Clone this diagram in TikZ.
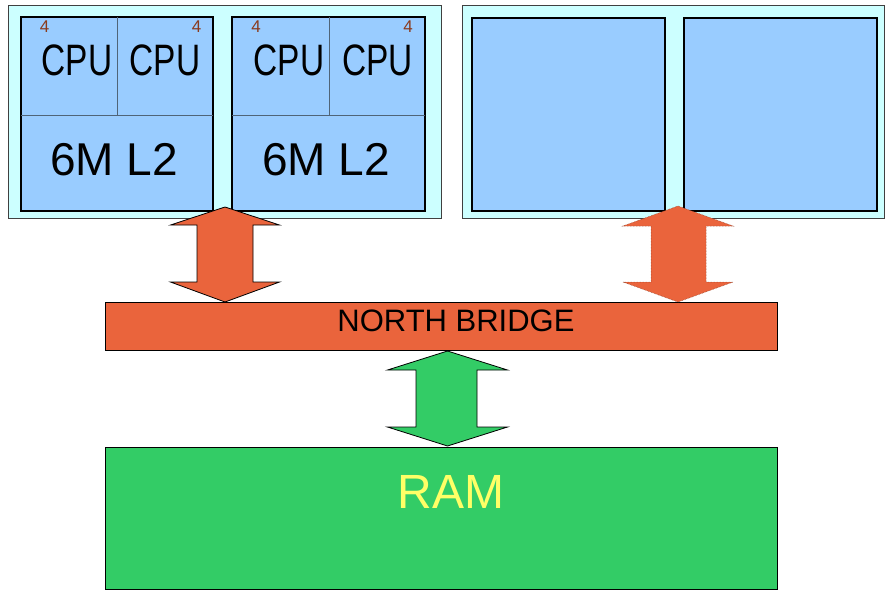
\documentclass[tikz,border=0pt]{standalone}
\usepackage{fontspec}
\setmainfont{Liberation Sans}
\definecolor{cyanbg}{HTML}{CCFFFF}
\definecolor{cpublue}{HTML}{99CCFF}
\definecolor{nbred}{HTML}{EA643C}
\definecolor{ramgreen}{HTML}{33CC66}
\definecolor{ramtext}{HTML}{FFFF66}
\definecolor{numbrown}{HTML}{8A3A1C}
\definecolor{divgray}{HTML}{4F6478}
\begin{document}
\begin{tikzpicture}[x=1pt,y=-1pt,
  outerbox/.style={fill=cyanbg, draw=black!75, line width=0.8pt},
  innerbox/.style={fill=cpublue, draw=black, line width=1.4pt},
  divider/.style={draw=divgray, line width=0.9pt},
  cpulabel/.style={anchor=base, inner sep=0pt, font=\fontsize{44}{44}\selectfont},
  cachelabel/.style={anchor=base, inner sep=0pt, font=\fontsize{46}{46}\selectfont},
  numlabel/.style={anchor=base, inner sep=0pt, text=numbrown, font=\fontsize{17}{17}\selectfont},
  bridgebox/.style={fill=nbred, draw=black, line width=1pt},
  rambox/.style={fill=ramgreen, draw=black, line width=1pt},
  blockarrowA/.style={fill=nbred, draw=black, line width=0.8pt, line join=miter},
  blockarrowB/.style={fill=nbred, draw=nbred!60!black, line width=0.5pt, densely dotted},
  blockarrowC/.style={fill=ramgreen, draw=black, line width=0.8pt, line join=miter}
]
\useasboundingbox (0,0) rectangle (885,590);
\fill[white] (0,0) rectangle (885,590);

% outer packages
\draw[outerbox] (8,5) rectangle (441,218);
\draw[outerbox] (462,5) rectangle (884.5,218);

% left package, die 1
\draw[innerbox] (21,17) rectangle (213,211);
\draw[divider] (21,115) -- (213,115);
\draw[divider] (117,17) -- (117,115);
% left package, die 2
\draw[innerbox] (232,17) rectangle (425,211);
\draw[divider] (232,115) -- (425,115);
\draw[divider] (329,17) -- (329,115);

% right package dies
\draw[innerbox] (472,18) rectangle (665,211);
\draw[innerbox] (684,18) rectangle (877,211);

% labels
\node[cpulabel] (cpu1) at (77,75) {\scalebox{0.76}[1]{CPU}};
\node[cpulabel] (cpu2) at (165,75) {\scalebox{0.76}[1]{CPU}};
\node[cpulabel] (cpu3) at (289,75) {\scalebox{0.76}[1]{CPU}};
\node[cpulabel] (cpu4) at (377.5,75) {\scalebox{0.76}[1]{CPU}};
\node[numlabel] (n1) at (44.5,32) {4};
\node[numlabel] (n2) at (196.5,32) {4};
\node[numlabel] (n3) at (256,32) {4};
\node[numlabel] (n4) at (408,32) {4};
\node[cachelabel] (l2a) at (114,175) {6M L2};
\node[cachelabel] (l2b) at (326,175) {6M L2};

% north bridge and RAM
\draw[bridgebox] (105,302) rectangle (777,350);
\node[anchor=base, inner sep=0pt, font=\fontsize{31}{31}\selectfont] (nb) at (456,331) {NORTH BRIDGE};
\draw[rambox] (105,447) rectangle (777,589);
\node[anchor=base, inner sep=0pt, text=ramtext, font=\fontsize{48}{48}\selectfont] (ram) at (451,508) {RAM};

% block arrows
\draw[blockarrowA] (225,207) -- (279.5,225) -- (253,225) -- (253,282) -- (279.5,282)
  -- (225,302) -- (170.5,282) -- (197,282) -- (197,225) -- (170.5,225) -- cycle;
\draw[blockarrowB] (678,206) -- (733,226) -- (706,226) -- (706,282) -- (733,282)
  -- (678,302) -- (623,282) -- (651,282) -- (651,226) -- (623,226) -- cycle;
\draw[blockarrowC] (447.5,351) -- (507.5,370) -- (477,370) -- (477,427) -- (507.5,427)
  -- (447.5,446) -- (387.5,427) -- (416,427) -- (416,370) -- (387.5,370) -- cycle;
\end{tikzpicture}
\end{document}
